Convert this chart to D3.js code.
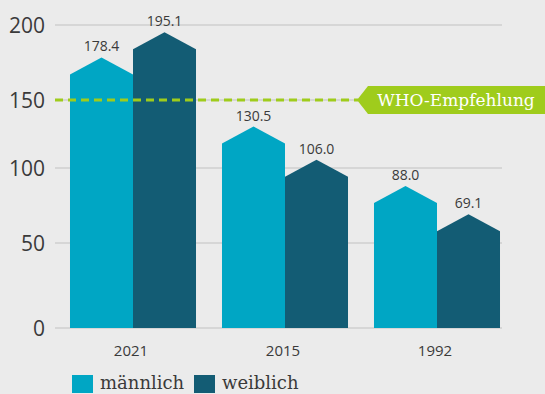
<!DOCTYPE html>
<html>
<head>
<meta charset="utf-8">
<script src="https://cdn.jsdelivr.net/npm/d3@7"></script>
<style>
  html, body { margin: 0; padding: 0; background: #ebebeb; }
  svg { display: block; }
</style>
</head>
<body>
<svg id="chart"></svg>
<script>
// Data
const years = ["2021", "2015", "1992"];
const maleValues = [178.4, 130.5, 88.0];
const femaleValues = [195.1, 106.0, 69.1];
const seriesNames = ["männlich", "weiblich"];
const yTicks = [0, 50, 100, 150, 200];
const whoValue = 150;
const whoLabel = "WHO-Empfehlung";

const width = 545;
const height = 394;
const colors = ["#00a6c4", "#135c74"];
const green = "#9fcc1c";

const svg = d3.select("#chart")
  .attr("width", width)
  .attr("height", height);

svg.append("rect")
  .attr("width", width)
  .attr("height", height)
  .attr("fill", "#ebebeb");

// Scales
const x = d3.scaleBand()
  .domain(years)
  .range([57, 513])
  .paddingInner(0.171)
  .paddingOuter(0.0855);

const xSub = d3.scaleBand()
  .domain([0, 1])
  .range([0, x.bandwidth()]);

// the original graphic is not evenly spaced, so use a piecewise scale
const y = d3.scaleLinear()
  .domain([0, 50, 100, 150, 200])
  .range([328, 243, 168, 100, 25]);

// Gridlines
svg.append("g")
  .selectAll("line")
  .data(yTicks)
  .enter()
  .append("line")
  .attr("x1", 55)
  .attr("x2", 502)
  .attr("y1", d => y(d))
  .attr("y2", d => y(d))
  .attr("stroke", "#d6d6d6")
  .attr("stroke-width", 2);

// Y labels
svg.append("g")
  .selectAll("text")
  .data(yTicks)
  .enter()
  .append("text")
  .attr("x", 45)
  .attr("y", d => y(d) + 7.5)
  .attr("text-anchor", "end")
  .attr("font-family", "'Open Sans', sans-serif")
  .attr("font-size", "21px")
  .attr("fill", "#3a3a3a")
  .text(d => d);

// Bars with a pointed roof
const roof = 17;
const bars = [];
years.forEach((yr, i) => {
  [maleValues[i], femaleValues[i]].forEach((v, s) => {
    bars.push({ year: yr, series: s, value: v });
  });
});

function housePath(d) {
  const x0 = x(d.year) + xSub(d.series);
  const x1 = x0 + xSub.bandwidth();
  const top = y(d.value);
  const base = y(0);
  return `M${x0},${base} L${x0},${top + roof} L${(x0 + x1) / 2},${top} L${x1},${top + roof} L${x1},${base} Z`;
}

svg.append("g")
  .selectAll("path")
  .data(bars)
  .enter()
  .append("path")
  .attr("d", housePath)
  .attr("fill", d => colors[d.series]);

// Value labels
svg.append("g")
  .selectAll("text")
  .data(bars)
  .enter()
  .append("text")
  .attr("x", d => x(d.year) + xSub(d.series) + xSub.bandwidth() / 2)
  .attr("y", d => y(d.value) - 6)
  .attr("text-anchor", "middle")
  .attr("font-family", "'Open Sans', sans-serif")
  .attr("font-size", "14px")
  .attr("fill", "#3a3a3a")
  .text(d => d.value.toFixed(1));

// WHO dashed line
const wy = y(whoValue);
svg.append("line")
  .attr("x1", 55)
  .attr("x2", 358)
  .attr("y1", wy)
  .attr("y2", wy)
  .attr("stroke", green)
  .attr("stroke-width", 3)
  .attr("stroke-dasharray", "8,5");

// WHO label box (arrow shape)
svg.append("path")
  .attr("d", `M357,${wy} L368,${wy - 14} L545,${wy - 14} L545,${wy + 14} L368,${wy + 14} Z`)
  .attr("fill", green);

svg.append("text")
  .attr("x", 456)
  .attr("y", wy + 6)
  .attr("text-anchor", "middle")
  .attr("font-family", "'DejaVu Serif', serif")
  .attr("font-size", "17px")
  .attr("fill", "#ffffff")
  .text(whoLabel);

// X axis labels
svg.append("g")
  .selectAll("text")
  .data(years)
  .enter()
  .append("text")
  .attr("x", d => x(d) + x.bandwidth() / 2 - 2)
  .attr("y", 356)
  .attr("text-anchor", "middle")
  .attr("font-family", "'Open Sans', sans-serif")
  .attr("font-size", "15px")
  .attr("fill", "#3a3a3a")
  .text(d => d);

// Legend
const legend = svg.append("g")
  .selectAll("g")
  .data(seriesNames)
  .enter()
  .append("g")
  .attr("transform", (d, i) => `translate(${72 + i * 122},375)`);

legend.append("rect")
  .attr("width", 21)
  .attr("height", 18)
  .attr("fill", (d, i) => colors[i]);

legend.append("text")
  .attr("x", 28)
  .attr("y", 14)
  .attr("font-family", "'DejaVu Serif', serif")
  .attr("font-size", "18px")
  .attr("fill", "#3a3a3a")
  .text(d => d);
</script>
</body>
</html>
